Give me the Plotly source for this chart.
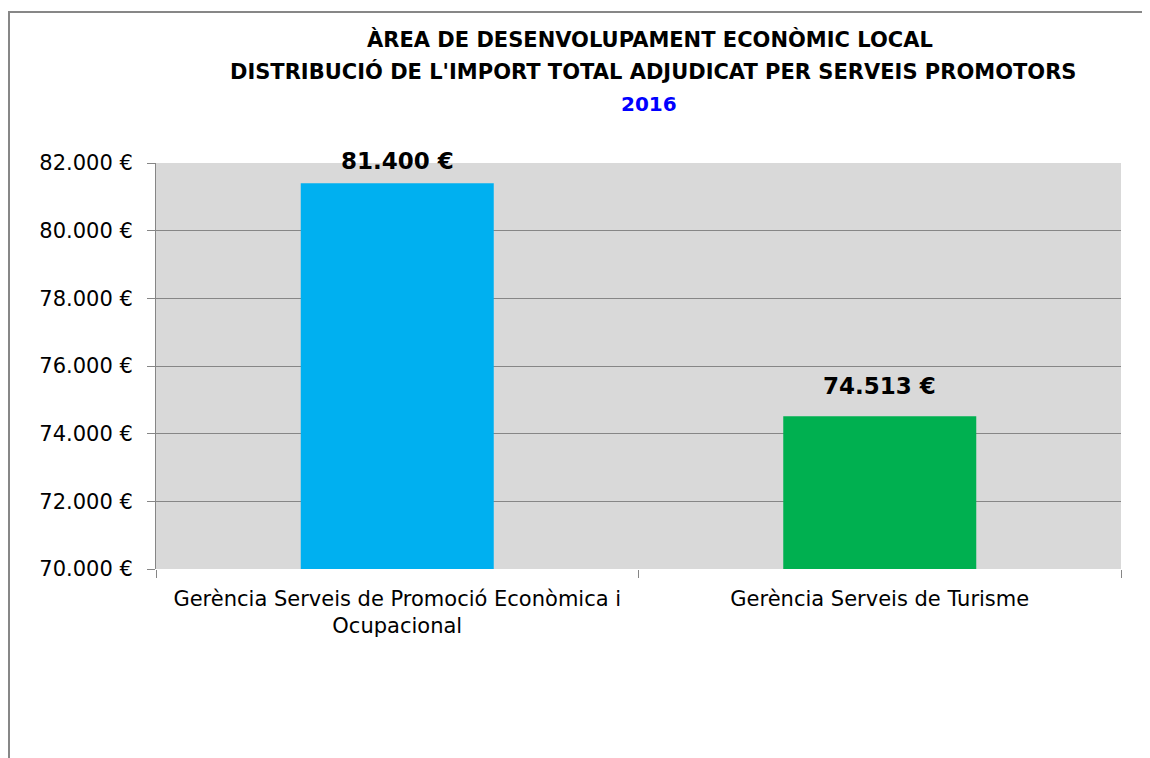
import plotly.graph_objects as go

categories = ["Gerència Serveis de Promoció Econòmica i<br>Ocupacional", "Gerència Serveis de Turisme"]
values = [81400, 74513]
bar_colors = ["#00B0F0", "#00B050"]
y_ticks = [70000, 72000, 74000, 76000, 78000, 80000, 82000]
title_lines = ["ÀREA DE DESENVOLUPAMENT ECONÒMIC LOCAL",
               "DISTRIBUCIÓ DE L'IMPORT TOTAL ADJUDICAT PER SERVEIS PROMOTORS"]
year = "2016"

# page body has an 8px margin; work in page coordinates and convert
OFF = 8
W, H = 1142, 750
L, T = 156 - OFF, 163 - OFF
pw, ph = 965, 406
R, B = W - L - pw, H - T - ph

def px_x(x):
    return (x - OFF - L) / pw

def px_y(y):
    return (T + ph - (y - OFF)) / ph

FONT = "DejaVu Sans"

def fmt(v):
    return f"{v:,.0f}".replace(",", ".") + " €"

fig = go.Figure()
fig.add_trace(go.Bar(x=categories, y=values, marker=dict(color=bar_colors, line=dict(width=0)),
                     width=0.4, hoverinfo="skip"))

label_shift = [22, 30]
for c, v, s in zip(categories, values, label_shift):
    fig.add_annotation(x=c, y=v, text="<b>" + fmt(v) + "</b>", showarrow=False, yanchor="middle", yshift=s,
                       font=dict(family=FONT, size=23, color="#000000"))

fig.add_annotation(xref="paper", yref="paper", x=px_x(650), y=px_y(40), text="<b>" + title_lines[0] + "</b>",
                   showarrow=False, xanchor="center", yanchor="middle",
                   font=dict(family=FONT, size=21, color="#000000"))
fig.add_annotation(xref="paper", yref="paper", x=px_x(653), y=px_y(71), text="<b>" + title_lines[1] + "</b>",
                   showarrow=False, xanchor="center", yanchor="middle",
                   font=dict(family=FONT, size=21, color="#000000"))
fig.add_annotation(xref="paper", yref="paper", x=px_x(649), y=px_y(104), text="<b>" + year + "</b>",
                   showarrow=False, xanchor="center", yanchor="middle",
                   font=dict(family=FONT, size=20, color="#0000FF"))

fig.add_shape(type="rect", xref="paper", yref="paper",
              x0=px_x(9), x1=px_x(1148), y0=px_y(800), y1=px_y(12),
              line=dict(color="#878787", width=2), fillcolor="rgba(0,0,0,0)", layer="below")

fig.update_layout(
    width=W, height=H,
    margin=dict(l=L, r=R, t=T, b=B),
    paper_bgcolor="#FFFFFF",
    plot_bgcolor="#D9D9D9",
    showlegend=False,
    font=dict(family=FONT, color="#000000"),
    bargap=0.6,
)
fig.update_yaxes(range=[70000, 82000], tickvals=y_ticks, ticktext=[fmt(v) for v in y_ticks],
                 showgrid=True, gridcolor="#868686", gridwidth=1,
                 showline=True, linecolor="#868686", linewidth=1,
                 ticks="outside", ticklen=8, tickcolor="#868686",
                 tickfont=dict(family=FONT, size=21, color="#000000"),
                 ticklabelstandoff=10, zeroline=False)
fig.update_xaxes(tickson="boundaries", ticks="outside", ticklen=8, tickcolor="#868686",
                 showline=False, showgrid=False, ticklabelstandoff=15,
                 tickfont=dict(family=FONT, size=21, color="#000000"))

fig.write_html("out.html")
